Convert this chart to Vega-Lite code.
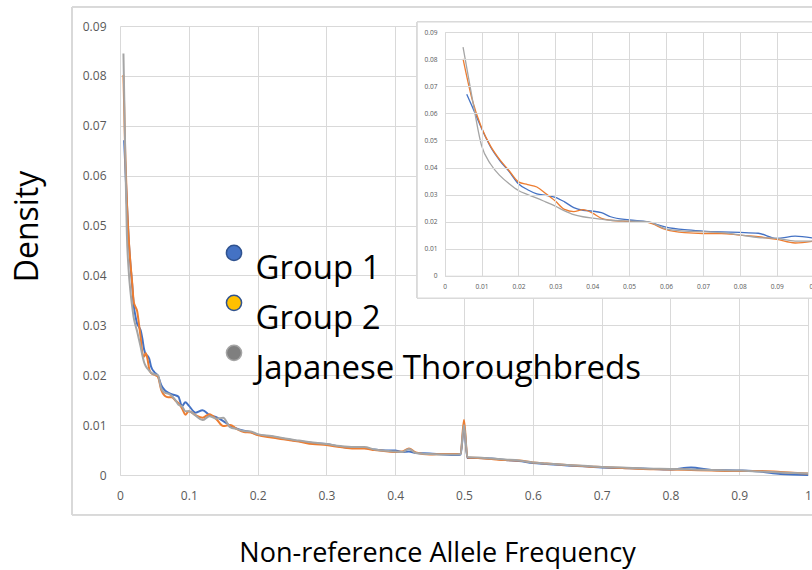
{
  "$schema": "https://vega.github.io/schema/vega-lite/v6.json",
  "width": 688,
  "height": 449,
  "autosize": "none",
  "padding": {"left": 120, "top": 26, "right": 4, "bottom": 95},
  "background": "white",
  "config": {
    "view": {"stroke": null},
    "axis": {
      "labelFont": "Open Sans",
      "titleFont": "Open Sans",
      "labelColor": "#595959",
      "gridColor": "#D9D9D9",
      "gridWidth": 1,
      "ticks": false,
      "tickSize": 0,
      "labelFlush": false,
      "labelOverlap": false,
      "titleFontWeight": "normal",
      "titleColor": "#000000"
    }
  },
  "datasets": {
    "afs": [
      {"freq": 0.006, "group": "Group 1", "density": 0.0671},
      {"freq": 0.0075, "group": "Group 1", "density": 0.0625},
      {"freq": 0.01, "group": "Group 1", "density": 0.0545},
      {"freq": 0.0125, "group": "Group 1", "density": 0.0475},
      {"freq": 0.015, "group": "Group 1", "density": 0.0425},
      {"freq": 0.0175, "group": "Group 1", "density": 0.0385},
      {"freq": 0.02, "group": "Group 1", "density": 0.034},
      {"freq": 0.0225, "group": "Group 1", "density": 0.0318},
      {"freq": 0.025, "group": "Group 1", "density": 0.0303},
      {"freq": 0.0275, "group": "Group 1", "density": 0.0297},
      {"freq": 0.03, "group": "Group 1", "density": 0.029},
      {"freq": 0.0325, "group": "Group 1", "density": 0.0273},
      {"freq": 0.035, "group": "Group 1", "density": 0.0252},
      {"freq": 0.0375, "group": "Group 1", "density": 0.0242},
      {"freq": 0.04, "group": "Group 1", "density": 0.0239},
      {"freq": 0.0425, "group": "Group 1", "density": 0.0233},
      {"freq": 0.045, "group": "Group 1", "density": 0.0218},
      {"freq": 0.05, "group": "Group 1", "density": 0.0206},
      {"freq": 0.055, "group": "Group 1", "density": 0.0199},
      {"freq": 0.06, "group": "Group 1", "density": 0.018},
      {"freq": 0.065, "group": "Group 1", "density": 0.017},
      {"freq": 0.07, "group": "Group 1", "density": 0.0165},
      {"freq": 0.075, "group": "Group 1", "density": 0.0162},
      {"freq": 0.08, "group": "Group 1", "density": 0.016},
      {"freq": 0.085, "group": "Group 1", "density": 0.0157},
      {"freq": 0.09, "group": "Group 1", "density": 0.0138},
      {"freq": 0.095, "group": "Group 1", "density": 0.0146},
      {"freq": 0.1, "group": "Group 1", "density": 0.0139},
      {"freq": 0.11, "group": "Group 1", "density": 0.0125},
      {"freq": 0.12, "group": "Group 1", "density": 0.013},
      {"freq": 0.13, "group": "Group 1", "density": 0.012},
      {"freq": 0.14, "group": "Group 1", "density": 0.0116},
      {"freq": 0.15, "group": "Group 1", "density": 0.0108},
      {"freq": 0.16, "group": "Group 1", "density": 0.0099},
      {"freq": 0.17, "group": "Group 1", "density": 0.0093},
      {"freq": 0.18, "group": "Group 1", "density": 0.0089},
      {"freq": 0.19, "group": "Group 1", "density": 0.0086},
      {"freq": 0.2, "group": "Group 1", "density": 0.0081},
      {"freq": 0.22, "group": "Group 1", "density": 0.0077},
      {"freq": 0.24, "group": "Group 1", "density": 0.0072},
      {"freq": 0.26, "group": "Group 1", "density": 0.0068},
      {"freq": 0.28, "group": "Group 1", "density": 0.0064},
      {"freq": 0.3, "group": "Group 1", "density": 0.0062},
      {"freq": 0.32, "group": "Group 1", "density": 0.0057},
      {"freq": 0.34, "group": "Group 1", "density": 0.0054},
      {"freq": 0.355, "group": "Group 1", "density": 0.0054},
      {"freq": 0.37, "group": "Group 1", "density": 0.0051},
      {"freq": 0.39, "group": "Group 1", "density": 0.0049},
      {"freq": 0.4, "group": "Group 1", "density": 0.0049},
      {"freq": 0.41, "group": "Group 1", "density": 0.0046},
      {"freq": 0.42, "group": "Group 1", "density": 0.0047},
      {"freq": 0.43, "group": "Group 1", "density": 0.0044},
      {"freq": 0.45, "group": "Group 1", "density": 0.0043},
      {"freq": 0.47, "group": "Group 1", "density": 0.0041},
      {"freq": 0.49, "group": "Group 1", "density": 0.004},
      {"freq": 0.495, "group": "Group 1", "density": 0.0041},
      {"freq": 0.5, "group": "Group 1", "density": 0.0095},
      {"freq": 0.505, "group": "Group 1", "density": 0.0034},
      {"freq": 0.52, "group": "Group 1", "density": 0.0034},
      {"freq": 0.54, "group": "Group 1", "density": 0.0033},
      {"freq": 0.56, "group": "Group 1", "density": 0.003},
      {"freq": 0.58, "group": "Group 1", "density": 0.0028},
      {"freq": 0.6, "group": "Group 1", "density": 0.0024},
      {"freq": 0.62, "group": "Group 1", "density": 0.0022},
      {"freq": 0.65, "group": "Group 1", "density": 0.0019},
      {"freq": 0.68, "group": "Group 1", "density": 0.0017},
      {"freq": 0.7, "group": "Group 1", "density": 0.0015},
      {"freq": 0.73, "group": "Group 1", "density": 0.0014},
      {"freq": 0.76, "group": "Group 1", "density": 0.0013},
      {"freq": 0.8, "group": "Group 1", "density": 0.0011},
      {"freq": 0.83, "group": "Group 1", "density": 0.0015},
      {"freq": 0.86, "group": "Group 1", "density": 0.001},
      {"freq": 0.9, "group": "Group 1", "density": 0.0009},
      {"freq": 0.93, "group": "Group 1", "density": 0.0007},
      {"freq": 0.96, "group": "Group 1", "density": 0.0002},
      {"freq": 1, "group": "Group 1", "density": 0},
      {"freq": 0.005, "group": "Group 2", "density": 0.0802},
      {"freq": 0.0075, "group": "Group 2", "density": 0.065},
      {"freq": 0.01, "group": "Group 2", "density": 0.0548},
      {"freq": 0.0125, "group": "Group 2", "density": 0.0478},
      {"freq": 0.015, "group": "Group 2", "density": 0.0428},
      {"freq": 0.0175, "group": "Group 2", "density": 0.0388},
      {"freq": 0.02, "group": "Group 2", "density": 0.0347},
      {"freq": 0.0225, "group": "Group 2", "density": 0.0337},
      {"freq": 0.025, "group": "Group 2", "density": 0.0328},
      {"freq": 0.0275, "group": "Group 2", "density": 0.0303},
      {"freq": 0.03, "group": "Group 2", "density": 0.0276},
      {"freq": 0.0325, "group": "Group 2", "density": 0.0245},
      {"freq": 0.035, "group": "Group 2", "density": 0.0237},
      {"freq": 0.0375, "group": "Group 2", "density": 0.0244},
      {"freq": 0.04, "group": "Group 2", "density": 0.0232},
      {"freq": 0.0425, "group": "Group 2", "density": 0.0212},
      {"freq": 0.045, "group": "Group 2", "density": 0.0205},
      {"freq": 0.05, "group": "Group 2", "density": 0.0201},
      {"freq": 0.055, "group": "Group 2", "density": 0.0197},
      {"freq": 0.06, "group": "Group 2", "density": 0.017},
      {"freq": 0.065, "group": "Group 2", "density": 0.0159},
      {"freq": 0.07, "group": "Group 2", "density": 0.0156},
      {"freq": 0.075, "group": "Group 2", "density": 0.0156},
      {"freq": 0.08, "group": "Group 2", "density": 0.015},
      {"freq": 0.085, "group": "Group 2", "density": 0.0144},
      {"freq": 0.09, "group": "Group 2", "density": 0.0134},
      {"freq": 0.095, "group": "Group 2", "density": 0.0121},
      {"freq": 0.1, "group": "Group 2", "density": 0.0128},
      {"freq": 0.11, "group": "Group 2", "density": 0.012},
      {"freq": 0.12, "group": "Group 2", "density": 0.0115},
      {"freq": 0.13, "group": "Group 2", "density": 0.0122},
      {"freq": 0.14, "group": "Group 2", "density": 0.0112},
      {"freq": 0.15, "group": "Group 2", "density": 0.0098},
      {"freq": 0.16, "group": "Group 2", "density": 0.01},
      {"freq": 0.17, "group": "Group 2", "density": 0.0092},
      {"freq": 0.18, "group": "Group 2", "density": 0.0086},
      {"freq": 0.19, "group": "Group 2", "density": 0.0085},
      {"freq": 0.2, "group": "Group 2", "density": 0.008},
      {"freq": 0.22, "group": "Group 2", "density": 0.0075},
      {"freq": 0.24, "group": "Group 2", "density": 0.0071},
      {"freq": 0.26, "group": "Group 2", "density": 0.0067},
      {"freq": 0.28, "group": "Group 2", "density": 0.0062},
      {"freq": 0.3, "group": "Group 2", "density": 0.006},
      {"freq": 0.32, "group": "Group 2", "density": 0.0056},
      {"freq": 0.34, "group": "Group 2", "density": 0.0053},
      {"freq": 0.355, "group": "Group 2", "density": 0.0053},
      {"freq": 0.37, "group": "Group 2", "density": 0.005},
      {"freq": 0.39, "group": "Group 2", "density": 0.0047},
      {"freq": 0.4, "group": "Group 2", "density": 0.0046},
      {"freq": 0.41, "group": "Group 2", "density": 0.0047},
      {"freq": 0.42, "group": "Group 2", "density": 0.0053},
      {"freq": 0.43, "group": "Group 2", "density": 0.0045},
      {"freq": 0.45, "group": "Group 2", "density": 0.0041},
      {"freq": 0.47, "group": "Group 2", "density": 0.0042},
      {"freq": 0.49, "group": "Group 2", "density": 0.0042},
      {"freq": 0.495, "group": "Group 2", "density": 0.0042},
      {"freq": 0.5, "group": "Group 2", "density": 0.011},
      {"freq": 0.505, "group": "Group 2", "density": 0.0035},
      {"freq": 0.52, "group": "Group 2", "density": 0.0034},
      {"freq": 0.54, "group": "Group 2", "density": 0.0032},
      {"freq": 0.56, "group": "Group 2", "density": 0.003},
      {"freq": 0.58, "group": "Group 2", "density": 0.0029},
      {"freq": 0.6, "group": "Group 2", "density": 0.0025},
      {"freq": 0.62, "group": "Group 2", "density": 0.0023},
      {"freq": 0.65, "group": "Group 2", "density": 0.002},
      {"freq": 0.68, "group": "Group 2", "density": 0.0017},
      {"freq": 0.7, "group": "Group 2", "density": 0.0016},
      {"freq": 0.73, "group": "Group 2", "density": 0.0014},
      {"freq": 0.76, "group": "Group 2", "density": 0.0012},
      {"freq": 0.8, "group": "Group 2", "density": 0.0011},
      {"freq": 0.83, "group": "Group 2", "density": 0.001},
      {"freq": 0.86, "group": "Group 2", "density": 0.0009},
      {"freq": 0.9, "group": "Group 2", "density": 0.0008},
      {"freq": 0.93, "group": "Group 2", "density": 0.0008},
      {"freq": 0.96, "group": "Group 2", "density": 0.0006},
      {"freq": 1, "group": "Group 2", "density": 0.0003},
      {"freq": 0.005, "group": "Japanese Thoroughbreds", "density": 0.0845},
      {"freq": 0.0075, "group": "Japanese Thoroughbreds", "density": 0.0655},
      {"freq": 0.01, "group": "Japanese Thoroughbreds", "density": 0.0482},
      {"freq": 0.0125, "group": "Japanese Thoroughbreds", "density": 0.0412},
      {"freq": 0.015, "group": "Japanese Thoroughbreds", "density": 0.037},
      {"freq": 0.0175, "group": "Japanese Thoroughbreds", "density": 0.034},
      {"freq": 0.02, "group": "Japanese Thoroughbreds", "density": 0.0315},
      {"freq": 0.0225, "group": "Japanese Thoroughbreds", "density": 0.03},
      {"freq": 0.025, "group": "Japanese Thoroughbreds", "density": 0.0287},
      {"freq": 0.0275, "group": "Japanese Thoroughbreds", "density": 0.0272},
      {"freq": 0.03, "group": "Japanese Thoroughbreds", "density": 0.0257},
      {"freq": 0.0325, "group": "Japanese Thoroughbreds", "density": 0.024},
      {"freq": 0.035, "group": "Japanese Thoroughbreds", "density": 0.0226},
      {"freq": 0.0375, "group": "Japanese Thoroughbreds", "density": 0.0218},
      {"freq": 0.04, "group": "Japanese Thoroughbreds", "density": 0.0213},
      {"freq": 0.0425, "group": "Japanese Thoroughbreds", "density": 0.0209},
      {"freq": 0.045, "group": "Japanese Thoroughbreds", "density": 0.0205},
      {"freq": 0.05, "group": "Japanese Thoroughbreds", "density": 0.0202},
      {"freq": 0.055, "group": "Japanese Thoroughbreds", "density": 0.02},
      {"freq": 0.06, "group": "Japanese Thoroughbreds", "density": 0.0173},
      {"freq": 0.065, "group": "Japanese Thoroughbreds", "density": 0.0165},
      {"freq": 0.07, "group": "Japanese Thoroughbreds", "density": 0.0163},
      {"freq": 0.075, "group": "Japanese Thoroughbreds", "density": 0.0159},
      {"freq": 0.08, "group": "Japanese Thoroughbreds", "density": 0.0151},
      {"freq": 0.085, "group": "Japanese Thoroughbreds", "density": 0.0141},
      {"freq": 0.09, "group": "Japanese Thoroughbreds", "density": 0.0138},
      {"freq": 0.095, "group": "Japanese Thoroughbreds", "density": 0.0128},
      {"freq": 0.1, "group": "Japanese Thoroughbreds", "density": 0.0128},
      {"freq": 0.11, "group": "Japanese Thoroughbreds", "density": 0.0119},
      {"freq": 0.12, "group": "Japanese Thoroughbreds", "density": 0.011},
      {"freq": 0.13, "group": "Japanese Thoroughbreds", "density": 0.0118},
      {"freq": 0.14, "group": "Japanese Thoroughbreds", "density": 0.0113},
      {"freq": 0.15, "group": "Japanese Thoroughbreds", "density": 0.0115},
      {"freq": 0.16, "group": "Japanese Thoroughbreds", "density": 0.0096},
      {"freq": 0.17, "group": "Japanese Thoroughbreds", "density": 0.0092},
      {"freq": 0.18, "group": "Japanese Thoroughbreds", "density": 0.0088},
      {"freq": 0.19, "group": "Japanese Thoroughbreds", "density": 0.0087},
      {"freq": 0.2, "group": "Japanese Thoroughbreds", "density": 0.0082},
      {"freq": 0.22, "group": "Japanese Thoroughbreds", "density": 0.0078},
      {"freq": 0.24, "group": "Japanese Thoroughbreds", "density": 0.0073},
      {"freq": 0.26, "group": "Japanese Thoroughbreds", "density": 0.0069},
      {"freq": 0.28, "group": "Japanese Thoroughbreds", "density": 0.0065},
      {"freq": 0.3, "group": "Japanese Thoroughbreds", "density": 0.0062},
      {"freq": 0.32, "group": "Japanese Thoroughbreds", "density": 0.0058},
      {"freq": 0.34, "group": "Japanese Thoroughbreds", "density": 0.0056},
      {"freq": 0.355, "group": "Japanese Thoroughbreds", "density": 0.0056},
      {"freq": 0.37, "group": "Japanese Thoroughbreds", "density": 0.0051},
      {"freq": 0.39, "group": "Japanese Thoroughbreds", "density": 0.0048},
      {"freq": 0.4, "group": "Japanese Thoroughbreds", "density": 0.0047},
      {"freq": 0.41, "group": "Japanese Thoroughbreds", "density": 0.0046},
      {"freq": 0.42, "group": "Japanese Thoroughbreds", "density": 0.0052},
      {"freq": 0.43, "group": "Japanese Thoroughbreds", "density": 0.0044},
      {"freq": 0.45, "group": "Japanese Thoroughbreds", "density": 0.0042},
      {"freq": 0.47, "group": "Japanese Thoroughbreds", "density": 0.0041},
      {"freq": 0.49, "group": "Japanese Thoroughbreds", "density": 0.0041},
      {"freq": 0.495, "group": "Japanese Thoroughbreds", "density": 0.0042},
      {"freq": 0.5, "group": "Japanese Thoroughbreds", "density": 0.01},
      {"freq": 0.505, "group": "Japanese Thoroughbreds", "density": 0.0036},
      {"freq": 0.52, "group": "Japanese Thoroughbreds", "density": 0.0035},
      {"freq": 0.54, "group": "Japanese Thoroughbreds", "density": 0.0033},
      {"freq": 0.56, "group": "Japanese Thoroughbreds", "density": 0.0031},
      {"freq": 0.58, "group": "Japanese Thoroughbreds", "density": 0.0029},
      {"freq": 0.6, "group": "Japanese Thoroughbreds", "density": 0.0025},
      {"freq": 0.62, "group": "Japanese Thoroughbreds", "density": 0.0023},
      {"freq": 0.65, "group": "Japanese Thoroughbreds", "density": 0.002},
      {"freq": 0.68, "group": "Japanese Thoroughbreds", "density": 0.0018},
      {"freq": 0.7, "group": "Japanese Thoroughbreds", "density": 0.0016},
      {"freq": 0.73, "group": "Japanese Thoroughbreds", "density": 0.0015},
      {"freq": 0.76, "group": "Japanese Thoroughbreds", "density": 0.0013},
      {"freq": 0.8, "group": "Japanese Thoroughbreds", "density": 0.0012},
      {"freq": 0.83, "group": "Japanese Thoroughbreds", "density": 0.0011},
      {"freq": 0.86, "group": "Japanese Thoroughbreds", "density": 0.001},
      {"freq": 0.9, "group": "Japanese Thoroughbreds", "density": 0.0009},
      {"freq": 0.93, "group": "Japanese Thoroughbreds", "density": 0.0007},
      {"freq": 0.96, "group": "Japanese Thoroughbreds", "density": 0.0005},
      {"freq": 1, "group": "Japanese Thoroughbreds", "density": 0.0003}
    ]
  },
  "layer": [
    {
      "data": {"name": "afs"},
      "layer": [
        {
          "mark": {"type": "rect", "fill": "transparent", "stroke": "#D9D9D9", "strokeWidth": 1},
          "encoding": {
            "x": {"datum": -0.0693, "type": "quantitative"},
            "x2": {"datum": 1.03},
            "y": {"datum": -0.008, "type": "quantitative"},
            "y2": {"datum": 0.0938}
          }
        },
        {
          "mark": {"type": "line", "strokeWidth": 2, "interpolate": "monotone"},
          "encoding": {
            "x": {
              "field": "freq", "type": "quantitative",
              "scale": {"domain": [0, 1], "nice": false, "zero": false},
              "axis": {
                "orient": "bottom",
                "values": [0, 0.1, 0.2, 0.3, 0.4, 0.5, 0.6, 0.7, 0.8, 0.9, 1],
                "format": "~g",
                "grid": true,
                "domain": true,
                "domainColor": "#D9D9D9",
                "domainWidth": 1,
                "labelFontSize": 12,
                "labelPadding": 15,
                "title": "Non-reference Allele Frequency",
                "titleFontSize": 27,
                "titleX": 317,
                "titleY": 86,
                "titleAlign": "center",
                "titleBaseline": "alphabetic"
              }
            },
            "y": {
              "field": "density", "type": "quantitative",
              "scale": {"domain": [0, 0.09], "nice": false},
              "axis": {
                "orient": "left",
                "values": [0, 0.01, 0.02, 0.03, 0.04, 0.05, 0.06, 0.07, 0.08, 0.09],
                "format": "~g",
                "grid": true,
                "domain": false,
                "labelFontSize": 12,
                "labelPadding": 14,
                "title": "Density",
                "titleFontSize": 32,
                "titleAngle": 270,
                "titleX": -83,
                "titleY": 200,
                "titleAlign": "center",
                "titleBaseline": "alphabetic"
              }
            },
            "detail": {"field": "group", "type": "nominal"},
            "color": {
              "condition": [
                {"test": "datum.group === 'Group 1'", "value": "#4472C4"},
                {"test": "datum.group === 'Group 2'", "value": "#ED7D31"}
              ],
              "value": "#A5A5A5"
            }
          }
        },
        {
          "transform": [{"filter": "datum.freq > 2"}],
          "mark": {"type": "point", "filled": true, "opacity": 1, "shape": "circle"},
          "encoding": {
            "x": {"field": "freq", "type": "quantitative"},
            "y": {"field": "density", "type": "quantitative"},
            "fill": {
              "field": "group", "type": "nominal",
              "scale": {"domain": ["Group 1", "Group 2", "Japanese Thoroughbreds"], "range": ["#4472C4", "#FFC000", "#7F7F7F"]},
              "legend": {
                "orient": "none",
                "legendX": 97.5,
                "legendY": 210.3,
                "title": null,
                "padding": 0,
                "symbolType": "circle",
                "symbolSize": 230,
                "symbolStrokeWidth": 1.5,
                "labelFont": "Open Sans",
                "labelFontSize": 33,
                "labelColor": "#000000",
                "labelBaseline": "top",
                "labelOffset": 5,
                "labelLimit": 600,
                "rowPadding": -2.3
              }
            },
            "stroke": {
              "field": "group", "type": "nominal",
              "scale": {"domain": ["Group 1", "Group 2", "Japanese Thoroughbreds"], "range": ["#2F528F", "#2F528F", "#A5A5A5"]},
              "legend": {
                "orient": "none",
                "legendX": 97.5,
                "legendY": 210.3,
                "title": null,
                "padding": 0,
                "symbolType": "circle",
                "symbolSize": 230,
                "symbolStrokeWidth": 1.5,
                "labelFont": "Open Sans",
                "labelFontSize": 33,
                "labelColor": "#000000",
                "labelBaseline": "top",
                "labelOffset": 5,
                "labelLimit": 600,
                "rowPadding": -2.3
              }
            }
          }
        }
      ]
    },
    {
      "data": {"name": "afs"},
      "transform": [{"filter": "datum.freq <= 0.1"}],
      "layer": [
        {
          "mark": {"type": "rect", "fill": "#FFFFFF", "stroke": "#D9D9D9", "strokeWidth": 1},
          "encoding": {
            "x": {"datum": -0.0074, "type": "quantitative"},
            "x2": {"datum": 0.11},
            "y": {"datum": -0.00825, "type": "quantitative"},
            "y2": {"datum": 0.0938}
          }
        },
        {
          "mark": {"type": "line", "strokeWidth": 1.3, "interpolate": "monotone"},
          "encoding": {
            "x": {
              "field": "freq", "type": "quantitative",
              "scale": {"domain": [0, 0.1], "range": [324.6, 693.6], "nice": false, "zero": false},
              "axis": {
                "orient": "top",
                "offset": -249.7,
                "values": [0, 0.01, 0.02, 0.03, 0.04, 0.05, 0.06, 0.07, 0.08, 0.09, 0.1],
                "format": "~g",
                "grid": true,
                "domain": true,
                "domainColor": "#D9D9D9",
                "domainWidth": 1,
                "labelFontSize": 6.6,
                "labelBaseline": "top",
                "labelPadding": -8,
                "title": null,
                "zindex": 1
              }
            },
            "y": {
              "field": "density", "type": "quantitative",
              "scale": {"domain": [0, 0.09], "range": [249.7, 6.3], "nice": false},
              "axis": {
                "orient": "left",
                "offset": -324.6,
                "values": [0, 0.01, 0.02, 0.03, 0.04, 0.05, 0.06, 0.07, 0.08, 0.09],
                "format": "~g",
                "grid": true,
                "domain": false,
                "labelFontSize": 6.6,
                "labelPadding": 7.6,
                "title": null,
                "zindex": 1
              }
            },
            "detail": {"field": "group", "type": "nominal"},
            "color": {
              "condition": [
                {"test": "datum.group === 'Group 1'", "value": "#4472C4"},
                {"test": "datum.group === 'Group 2'", "value": "#ED7D31"}
              ],
              "value": "#A5A5A5"
            }
          }
        }
      ]
    }
  ],
  "resolve": {
    "scale": {"x": "independent", "y": "independent"},
    "axis": {"x": "independent", "y": "independent"}
  }
}
